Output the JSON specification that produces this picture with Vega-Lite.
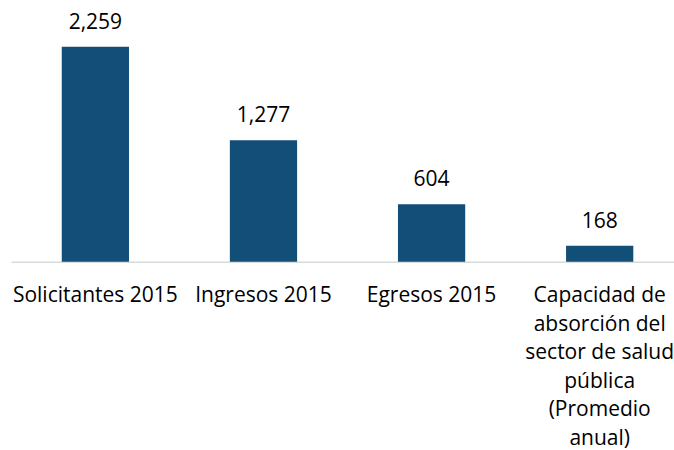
{
  "$schema": "https://vega.github.io/schema/vega-lite/v6.json",
  "width": 663,
  "height": 261.7,
  "autosize": {"type": "none"},
  "padding": {"left": 11, "top": 0, "right": 0, "bottom": 188.3},
  "background": "white",
  "config": {"view": {"stroke": null}},
  "data": {
    "values": [
      {"categoria": "Solicitantes 2015", "orden": 1, "valor": 2259},
      {"categoria": "Ingresos 2015", "orden": 2, "valor": 1277},
      {"categoria": "Egresos 2015", "orden": 3, "valor": 604},
      {"categoria": "Capacidad de|absorción del|sector de salud|pública|(Promedio|anual)", "orden": 4, "valor": 168}
    ]
  },
  "encoding": {
    "x": {
      "field": "categoria",
      "type": "nominal",
      "sort": {"field": "orden"},
      "scale": {"paddingInner": 0.6, "paddingOuter": 0.272, "align": 0.555},
      "axis": {
        "title": null,
        "labelAngle": 0,
        "ticks": false,
        "tickSize": 0,
        "labelPadding": 40,
        "labelBaseline": "alphabetic",
        "labelFont": "Open Sans",
        "labelFontSize": 21,
        "labelColor": "#000000",
        "labelLineHeight": 28.5,
        "labelLimit": 0,
        "labelExpr": "split(datum.label, '|')",
        "domainColor": "#D9D9D9",
        "domainWidth": 1.5,
        "grid": false
      }
    },
    "y": {
      "field": "valor",
      "type": "quantitative",
      "scale": {"domain": [0, 2750], "nice": false},
      "axis": null
    }
  },
  "layer": [
    {"mark": {"type": "bar", "color": "#124E78"}},
    {
      "mark": {"type": "text", "baseline": "alphabetic", "dy": -18, "font": "Open Sans", "fontSize": 21, "color": "#000000"},
      "encoding": {"text": {"field": "valor", "type": "quantitative", "format": ","}}
    }
  ]
}
